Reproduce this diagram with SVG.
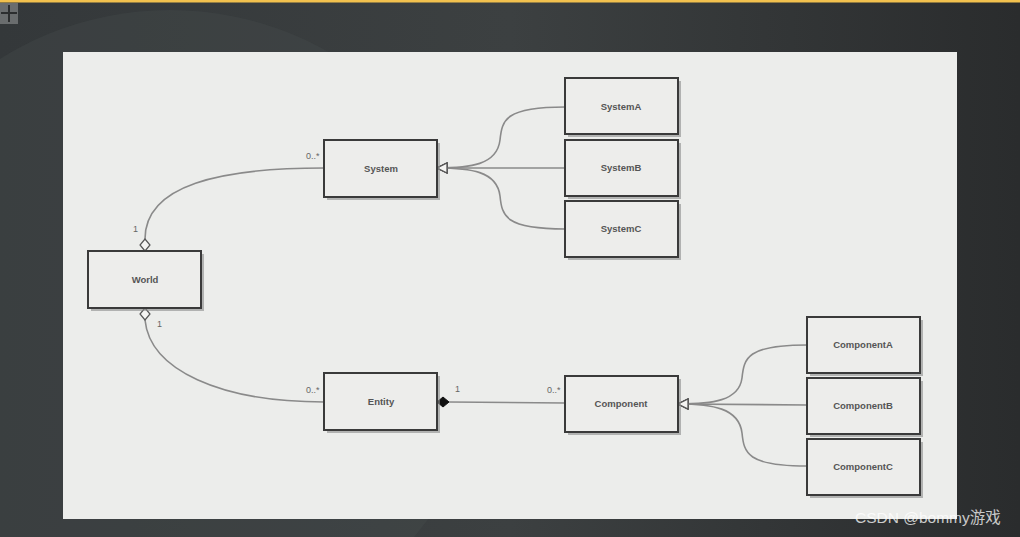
<svg xmlns="http://www.w3.org/2000/svg" width="1020" height="537" viewBox="0 0 1020 537">
<defs>
<style>
.box{fill:#ededeb;stroke:#3a3a3a;stroke-width:2}
.sh{fill:#8a8a8a;opacity:0.6}
.lbl{font-family:"Liberation Sans",Arial,sans-serif;font-size:9.5px;font-weight:bold;fill:#555;text-anchor:middle}
.mult{font-family:"Liberation Sans",Arial,sans-serif;font-size:9px;fill:#666}
.con{fill:none;stroke:#8a8a8a;stroke-width:1.6}
</style>
<linearGradient id="bg" x1="0" y1="0" x2="1" y2="0">
<stop offset="0" stop-color="#34383a"/>
<stop offset="0.5" stop-color="#3c4041"/>
<stop offset="1" stop-color="#2a2c2d"/>
</linearGradient>
<marker id="tri" markerWidth="12" markerHeight="12" refX="11" refY="6" orient="auto" markerUnits="userSpaceOnUse">
<path d="M1,1 L11,6 L1,11 Z" fill="#f4f4f2" stroke="#555" stroke-width="1.3"/>
</marker>
</defs>
<rect width="1020" height="537" fill="url(#bg)"/>
<ellipse cx="170" cy="330" rx="320" ry="320" fill="#4a4e4f" opacity="0.3"/>
<rect x="0" y="0" width="1020" height="2.5" fill="#f2c14e"/>
<g id="icon">
<rect x="0" y="3" width="18" height="21" fill="#6a6d6e"/>
<path d="M9,5 V22 M1,13 H17" stroke="#2c2e2f" stroke-width="2"/>
</g>
<rect x="63" y="52" width="894" height="467" fill="#ecedeb"/>

<g id="connectors">
<path class="con" d="M145,239 C145,185 220,168 324,168"/>
<path d="M145,251 L140,245 L145,239 L150,245 Z" fill="#f4f4f2" stroke="#555" stroke-width="1.2"/>
<path class="con" d="M145,320 C150,370 220,402 324,402"/>
<path d="M145,308 L140,314 L145,320 L150,314 Z" fill="#f4f4f2" stroke="#555" stroke-width="1.2"/>
<path class="con" d="M449,402 L565,403"/>
<path d="M437,402 L443,397 L449,402 L443,407 Z" fill="#111" stroke="#111" stroke-width="1"/>

<path class="con" d="M565,107 C505,107 502,120 500,140 C497,165 470,168 437,168" marker-end="url(#tri)"/>
<path class="con" d="M565,168 L437,168" marker-end="url(#tri)"/>
<path class="con" d="M565,229 C505,229 502,216 500,196 C497,171 470,168 437,168" marker-end="url(#tri)"/>

<path class="con" d="M807,345 C747,345 744,358 742,378 C739,401 712,404 678,404" marker-end="url(#tri)"/>
<path class="con" d="M807,405 L678,404" marker-end="url(#tri)"/>
<path class="con" d="M807,466 C747,466 744,453 742,433 C739,408 712,404 678,404" marker-end="url(#tri)"/>

<text class="mult" x="133" y="232">1</text>
<text class="mult" x="306" y="159">0..*</text>
<text class="mult" x="157" y="327">1</text>
<text class="mult" x="306" y="393">0..*</text>
<text class="mult" x="455" y="392">1</text>
<text class="mult" x="547" y="393">0..*</text>
</g>

<g id="World"><rect class="sh" x="91" y="254" width="113" height="57"/><rect class="box" x="88" y="251" width="113" height="57"/><text class="lbl" x="145" y="283">World</text></g>
<g id="System"><rect class="sh" x="327" y="143" width="113" height="57"/><rect class="box" x="324" y="140" width="113" height="57"/><text class="lbl" x="381" y="172">System</text></g>
<g id="SystemA"><rect class="sh" x="568" y="81" width="113" height="56"/><rect class="box" x="565" y="78" width="113" height="56"/><text class="lbl" x="621" y="110">SystemA</text></g>
<g id="SystemB"><rect class="sh" x="568" y="143" width="113" height="56"/><rect class="box" x="565" y="140" width="113" height="56"/><text class="lbl" x="621" y="171">SystemB</text></g>
<g id="SystemC"><rect class="sh" x="568" y="204" width="113" height="56"/><rect class="box" x="565" y="201" width="113" height="56"/><text class="lbl" x="621" y="232">SystemC</text></g>
<g id="Entity"><rect class="sh" x="327" y="376" width="113" height="57"/><rect class="box" x="324" y="373" width="113" height="57"/><text class="lbl" x="381" y="405">Entity</text></g>
<g id="Component"><rect class="sh" x="568" y="379" width="113" height="56"/><rect class="box" x="565" y="376" width="113" height="56"/><text class="lbl" x="621" y="407">Component</text></g>
<g id="ComponentA"><rect class="sh" x="810" y="320" width="113" height="56"/><rect class="box" x="807" y="317" width="113" height="56"/><text class="lbl" x="863" y="348">ComponentA</text></g>
<g id="ComponentB"><rect class="sh" x="810" y="381" width="113" height="56"/><rect class="box" x="807" y="378" width="113" height="56"/><text class="lbl" x="863" y="409">ComponentB</text></g>
<g id="ComponentC"><rect class="sh" x="810" y="442" width="113" height="56"/><rect class="box" x="807" y="439" width="113" height="56"/><text class="lbl" x="863" y="470">ComponentC</text></g>

<text x="855" y="523" font-family="'Liberation Sans','Noto Sans CJK SC',sans-serif" font-size="15.5" fill="#ffffff" fill-opacity="0.75">CSDN @bommy游戏</text>
</svg>
